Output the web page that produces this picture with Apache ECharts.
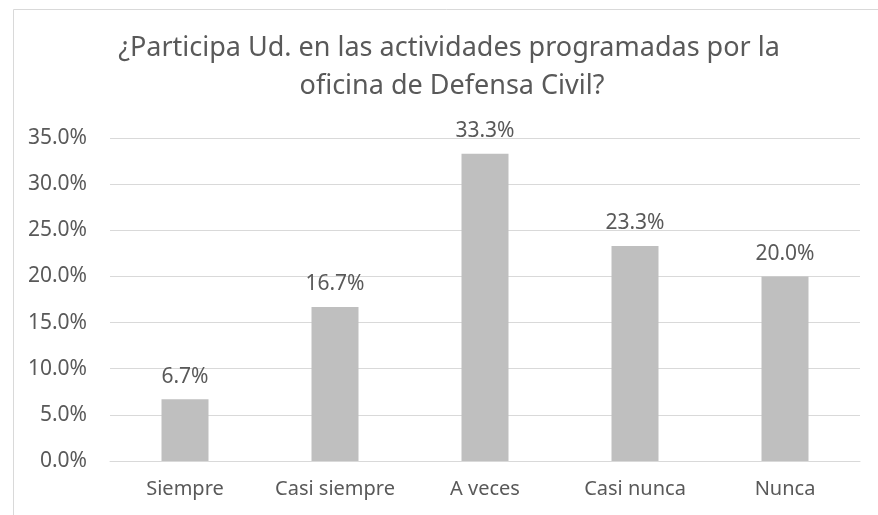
<!DOCTYPE html>
<html>
<head>
<meta charset="utf-8">
<script src="https://cdn.jsdelivr.net/npm/echarts@6/dist/echarts.min.js"></script>
<style>
  html, body { margin: 0; padding: 0; background: #fff; }
  #chart { width: 878px; height: 515px; }
</style>
</head>
<body>
<div id="chart"></div>
<script>
// datos
const categories = ['Siempre', 'Casi siempre', 'A veces', 'Casi nunca', 'Nunca'];
const values = [6.7, 16.7, 33.3, 23.3, 20.0];
const titleLines = ['¿Participa Ud. en las actividades programadas por la', 'oficina de Defensa Civil?'];

const font = 'Noto Sans';
const txt = '#595959';

let chart = echarts.init(document.getElementById('chart'));
chart.setOption({
    animation: false,
    graphic: [
        {
            type: 'rect', left: 11, top: 7,
            shape: { width: 900, height: 600 },
            style: { fill: 'none', stroke: '#d9d9d9', lineWidth: 1 },
            silent: true
        },
        {
            type: 'text', x: 449, y: 48,
            style: { text: titleLines[0], fontFamily: font, fontSize: 27, fill: txt,
                     align: 'center', verticalAlign: 'middle' }
        },
        {
            type: 'text', x: 452, y: 86,
            style: { text: titleLines[1], fontFamily: font, fontSize: 27, fill: txt,
                     align: 'center', verticalAlign: 'middle' }
        }
    ],
    grid: { left: 110, right: 18, top: 138, bottom: 54, containLabel: false },
    xAxis: {
        type: 'category',
        data: categories,
        axisLine: { lineStyle: { color: '#d9d9d9', width: 1 } },
        axisTick: { show: false },
        axisLabel: { fontFamily: font, fontSize: 20, color: txt, margin: 18,
            interval: 0, hideOverlap: false }
    },
    yAxis: {
        type: 'value',
        min: 0, max: 35, interval: 5,
        axisLine: { show: false },
        axisTick: { show: false },
        splitLine: { lineStyle: { color: '#d9d9d9', width: 1 } },
        axisLabel: { fontFamily: font, fontSize: 21, color: txt, margin: 23,
            formatter: v => v.toFixed(1) + '%' }
    },
    series: [{
        type: 'bar',
        data: values,
        barWidth: 47,
        itemStyle: { color: '#bfbfbf' },
        label: {
            show: true, position: 'top', distance: 12,
            fontFamily: font, fontSize: 21, color: txt,
            formatter: p => p.value.toFixed(1) + '%'
        }
    }]
});
</script>
</body>
</html>
